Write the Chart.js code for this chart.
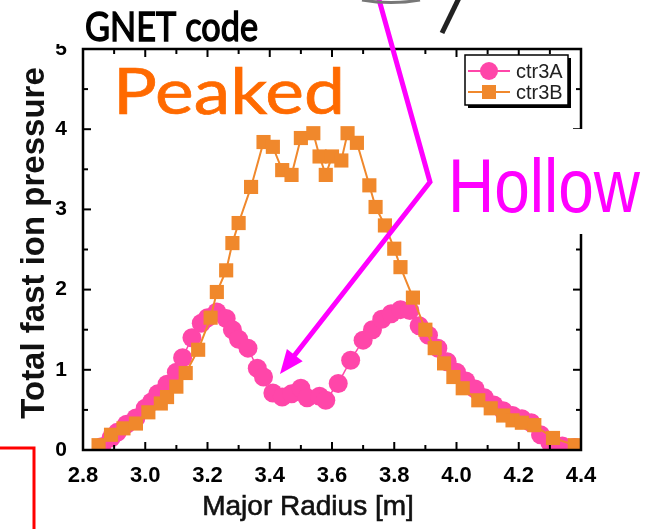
<!DOCTYPE html>
<html>
<head>
<meta charset="utf-8">
<script src="https://cdn.jsdelivr.net/npm/chart.js@4.4.1/dist/chart.umd.min.js"></script>
<style>
  html, body { margin: 0; padding: 0; background: #fff; }
  #wrap { width: 649px; height: 529px; }
</style>
</head>
<body>
<div id="wrap"><canvas id="chart" width="649" height="529"></canvas></div>
<script>
// GNET code: total fast ion pressure vs major radius
const ctr3A_R = [2.86, 2.89, 2.91, 2.94, 2.97, 3.00, 3.02, 3.04, 3.07, 3.10, 3.12, 3.15, 3.18, 3.20,
  3.23, 3.26, 3.28, 3.30, 3.33, 3.36, 3.38, 3.41, 3.44, 3.47, 3.50, 3.52, 3.56, 3.58, 3.62, 3.66,
  3.70, 3.73, 3.76, 3.79, 3.82, 3.85, 3.88, 3.91, 3.94, 3.97, 4.00, 4.03, 4.06, 4.09, 4.12, 4.15,
  4.18, 4.21, 4.24, 4.27, 4.30, 4.34, 4.38];
const ctr3A_P = [0.04, 0.15, 0.22, 0.32, 0.40, 0.52, 0.60, 0.70, 0.82, 0.97, 1.15, 1.40, 1.58, 1.65,
  1.72, 1.64, 1.50, 1.38, 1.27, 1.02, 0.91, 0.71, 0.66, 0.70, 0.77, 0.65, 0.67, 0.62, 0.83, 1.12,
  1.37, 1.50, 1.63, 1.70, 1.75, 1.74, 1.55, 1.43, 1.27, 1.10, 0.97, 0.86, 0.76, 0.65, 0.56, 0.49,
  0.43, 0.39, 0.34, 0.19, 0.09, 0.05, 0.03];

const ctr3B_R = [2.85, 2.89, 2.93, 2.97, 3.01, 3.05, 3.07, 3.10, 3.13, 3.17, 3.21, 3.23, 3.26, 3.28,
  3.30, 3.34, 3.38, 3.41, 3.44, 3.47, 3.50, 3.54, 3.56, 3.58, 3.60, 3.63, 3.65, 3.68, 3.72, 3.74,
  3.77, 3.80, 3.82, 3.86, 3.90, 3.93, 3.96, 3.99, 4.02, 4.07, 4.11, 4.15, 4.18, 4.21, 4.25, 4.31, 4.38];
const ctr3B_P = [0.06, 0.19, 0.27, 0.33, 0.47, 0.58, 0.66, 0.79, 0.96, 1.25, 1.65, 1.97, 2.24, 2.58,
  2.83, 3.28, 3.84, 3.78, 3.49, 3.43, 3.89, 3.95, 3.66, 3.43, 3.66, 3.61, 3.95, 3.83, 3.30, 3.03,
  2.80, 2.51, 2.28, 1.90, 1.50, 1.27, 1.08, 0.91, 0.77, 0.62, 0.52, 0.43, 0.37, 0.34, 0.31, 0.15, 0.06];

const xTicks = [2.8, 3.0, 3.2, 3.4, 3.6, 3.8, 4.0, 4.2, 4.4];
const yTicks = [0, 1, 2, 3, 4, 5];

const PINK = "#ff46a9";
const ORANGE = "#f0882c";

function points(rs, ps) {
  return rs.map((r, i) => ({ x: r, y: ps[i] }));
}

// text stretched to a given width and cap height, baseline at y
function fitText(ctx, text, x, y, width, cap, family, color, stroke) {
  ctx.save();
  ctx.textAlign = "left";
  ctx.textBaseline = "alphabetic";
  ctx.font = `100px ${family}`;
  const w = ctx.measureText(text).width;
  const h = ctx.measureText("H").actualBoundingBoxAscent;
  ctx.translate(x, y);
  ctx.scale(width / w, cap / h);
  ctx.fillStyle = color;
  ctx.fillText(text, 0, 0);
  if (stroke) {
    ctx.strokeStyle = color;
    ctx.lineWidth = stroke * w / width;
    ctx.strokeText(text, 0, 0);
  }
  ctx.restore();
}

const frameTicks = {
  id: "frameTicks",
  afterDatasetsDraw(chart) {
    const { ctx, chartArea: a, scales: { x, y } } = chart;
    ctx.save();
    ctx.strokeStyle = "#000";
    ctx.lineWidth = 2;
    const xs = x.ticks.map(t => t.value);
    const ys = y.ticks.map(t => t.value);
    const tick = (px, py, dx, dy) => {
      ctx.beginPath();
      ctx.moveTo(px, py);
      ctx.lineTo(px + dx, py + dy);
      ctx.stroke();
    };
    xs.forEach((v, i) => {
      const p = x.getPixelForValue(v);
      tick(p, a.bottom, 0, -8);
      tick(p, a.top, 0, 8);
      if (i < xs.length - 1) {
        const m = x.getPixelForValue((v + xs[i + 1]) / 2);
        tick(m, a.bottom, 0, -5);
        tick(m, a.top, 0, 5);
      }
    });
    ys.forEach((v, i) => {
      const p = y.getPixelForValue(v);
      tick(a.left, p, 8, 0);
      tick(a.right, p, -8, 0);
      if (i < ys.length - 1) {
        const m = y.getPixelForValue((v + ys[i + 1]) / 2);
        tick(a.left, m, 5, 0);
        tick(a.right, m, -5, 0);
      }
    });
    ctx.lineWidth = 2.5;
    ctx.strokeRect(a.left, a.top, a.right - a.left, a.bottom - a.top);
    ctx.restore();
  },
  afterDraw(chart) {
    const { ctx } = chart;
    ctx.save();

    // axis titles
    ctx.fillStyle = "#111";
    ctx.strokeStyle = "#111";
    ctx.lineWidth = 0.6;
    ctx.textAlign = "center";
    ctx.textBaseline = "middle";
    ctx.font = "28px 'Liberation Sans', Arial, sans-serif";
    ctx.fillText("Major Radius [m]", 308, 507);
    ctx.strokeText("Major Radius [m]", 308, 507);
    ctx.save();
    ctx.translate(35, 243);
    ctx.rotate(-Math.PI / 2);
    ctx.font = "bold 33px 'Liberation Sans', Arial, sans-serif";
    ctx.fillText("Total fast ion pressure", 0, 0);
    ctx.restore();

    // legend
    const lx = 465, ly = 55, lw = 103, lh = 50;
    ctx.fillStyle = "#000";
    ctx.fillRect(lx + 3, ly + 3, lw, lh);
    ctx.fillStyle = "#fff";
    ctx.fillRect(lx, ly, lw, lh);
    ctx.strokeStyle = "#000";
    ctx.lineWidth = 1.5;
    ctx.strokeRect(lx, ly, lw, lh);
    chart.data.datasets.forEach((ds, i) => {
      const ry = ly + 16 + i * 21;
      ctx.strokeStyle = ds.borderColor;
      ctx.lineWidth = 2;
      ctx.beginPath();
      ctx.moveTo(lx + 3, ry);
      ctx.lineTo(lx + 45, ry);
      ctx.stroke();
      ctx.fillStyle = ds.backgroundColor;
      if (ds.pointStyle === "circle") {
        ctx.beginPath();
        ctx.arc(lx + 24, ry, 9, 0, Math.PI * 2);
        ctx.fill();
      } else {
        ctx.fillRect(lx + 17, ry - 7, 14, 14);
      }
      ctx.fillStyle = "#222";
      ctx.font = "20px 'Liberation Sans', Arial, sans-serif";
      ctx.textAlign = "left";
      ctx.textBaseline = "middle";
      ctx.fillText(ds.label, lx + 51, ry + 1);
    });

    // text boxes laid over the plot
    ctx.fillStyle = "#fff";
    ctx.fillRect(55, 0, 215, 44);
    fitText(ctx, "GNET code", 85, 41, 173, 29, "Lato, 'Open Sans', sans-serif", "#000", 1.2);
    fitText(ctx, "Peaked", 113, 114, 232, 46, "Lato, 'Open Sans', sans-serif", "#ff6a00", 0.8);
    ctx.fillStyle = "#fff";
    ctx.fillRect(442, 129, 207, 105);
    fitText(ctx, "Hollow", 448, 212, 192, 53, "'Liberation Sans', Arial, sans-serif", "#ff00ff", 0);

    // magenta pointer with arrow
    ctx.strokeStyle = "#ff00ff";
    ctx.fillStyle = "#ff00ff";
    ctx.lineWidth = 5;
    ctx.lineJoin = "miter";
    ctx.beginPath();
    ctx.moveTo(378, -4);
    ctx.lineTo(430, 182);
    ctx.lineTo(294, 356);
    ctx.stroke();
    const tipX = 280, tipY = 374;
    const ux = -0.616, uy = 0.788;
    const bx = tipX - ux * 24, by = tipY - uy * 24;
    ctx.beginPath();
    ctx.moveTo(tipX, tipY);
    ctx.lineTo(bx - uy * 10, by + ux * 10);
    ctx.lineTo(bx + uy * 10, by - ux * 10);
    ctx.closePath();
    ctx.fill();

    // fragments of neighbouring figure
    ctx.strokeStyle = "#222";
    ctx.lineWidth = 5;
    ctx.beginPath();
    ctx.moveTo(459, -2);
    ctx.lineTo(442, 33);
    ctx.stroke();
    ctx.strokeStyle = "#777";
    ctx.lineWidth = 3;
    ctx.beginPath();
    ctx.moveTo(362, 0);
    ctx.quadraticCurveTo(391, 5, 420, 0);
    ctx.stroke();

    // red bracket
    ctx.strokeStyle = "#ff0000";
    ctx.lineWidth = 3;
    ctx.beginPath();
    ctx.moveTo(-2, 448);
    ctx.lineTo(34, 448);
    ctx.lineTo(34, 532);
    ctx.stroke();

    ctx.restore();
  }
};

new Chart(document.getElementById("chart"), {
  type: "scatter",
  data: {
    datasets: [
      {
        label: "ctr3A",
        data: points(ctr3A_R, ctr3A_P),
        showLine: true,
        borderColor: PINK,
        backgroundColor: PINK,
        borderWidth: 1.5,
        pointStyle: "circle",
        pointRadius: 9.5,
        pointBorderWidth: 0,
        order: 1
      },
      {
        label: "ctr3B",
        data: points(ctr3B_R, ctr3B_P),
        showLine: true,
        borderColor: ORANGE,
        backgroundColor: ORANGE,
        borderWidth: 2,
        pointStyle: "rect",
        pointRadius: 10,
        pointBorderWidth: 0,
        order: 0
      }
    ]
  },
  options: {
    responsive: false,
    animation: false,
    devicePixelRatio: 1,
    layout: { padding: { top: 49, right: 68, left: 0, bottom: 0 } },
    plugins: { legend: { display: false }, tooltip: { enabled: false } },
    scales: {
      x: {
        type: "linear",
        min: 2.8,
        max: 4.4,
        afterBuildTicks: s => { s.ticks = xTicks.map(v => ({ value: v })); },
        afterFit: s => { s.height = 79; },
        grid: { display: false },
        border: { display: false },
        ticks: {
          color: "#000",
          padding: 5,
          font: { family: "'Liberation Sans', Arial, sans-serif", size: 22, weight: "bold" },
          callback: v => v.toFixed(1)
        }
      },
      y: {
        min: 0,
        max: 5,
        afterBuildTicks: s => { s.ticks = yTicks.map(v => ({ value: v })); },
        afterFit: s => { s.width = 83; },
        grid: { display: false },
        border: { display: false },
        ticks: {
          color: "#000",
          padding: 8,
          font: { family: "'Liberation Sans', Arial, sans-serif", size: 21, weight: "bold" }
        }
      }
    }
  },
  plugins: [frameTicks]
});
</script>
</body>
</html>
